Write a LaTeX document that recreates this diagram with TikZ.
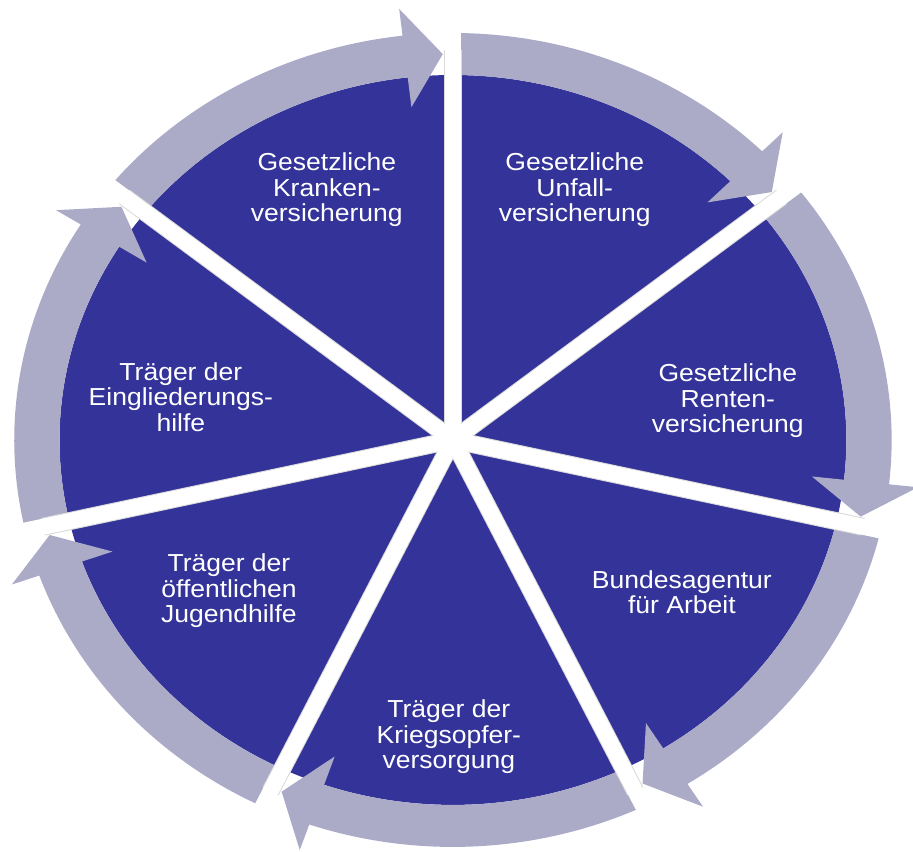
\documentclass[tikz,border=0pt]{standalone}
\usepackage{fontspec}
\setmainfont{Liberation Sans}
\usepackage{tikz}

\definecolor{wedgeblue}{RGB}{51,51,153}
\definecolor{ringgrey}{RGB}{171,171,200}

\begin{document}
\begin{tikzpicture}[xscale=1.078,
	wedge/.style={fill=wedgeblue},
	band/.style={fill=ringgrey},
	gapedge/.style={draw=black!15, line width=9pt},
	gapfill/.style={draw=white, line width=8pt},
	txt/.style={text=white, align=center, transform shape,
		font=\fontsize{12.3}{12.75}\selectfont}]
	
	\useasboundingbox (-210.1pt,-206pt) rectangle (213.4pt,220pt);
	
	% seven segments, clockwise from the top, each with its arrow band
	\foreach \s in {0,...,6} {
		\pgfmathsetmacro{\angA}{90-\s*360/7}
		\pgfmathsetmacro{\angB}{\angA-360/7}
		\pgfmathsetmacro{\angC}{\angB+6.6}
		\pgfmathsetmacro{\angT}{\angB+1.4}
		\fill[wedge] (0,0) -- (\angA:182.5pt)
			arc[start angle=\angA, end angle=\angB, radius=182.5pt] -- cycle;
		\fill[band] (\angA:182.5pt)
			arc[start angle=\angA, end angle=\angC, radius=182.5pt]
			-- (\angC:167.5pt) -- (\angT:193pt) -- (\angC:217pt) -- (\angC:203.5pt)
			arc[start angle=\angC, end angle=\angA, radius=203.5pt] -- cycle;
	}
	
	% white gaps between the segments
	\foreach \s in {0,...,6}
		\draw[gapedge] (0,0) -- ({90-\s*360/7}:195pt);
	\foreach \s in {0,...,6}
		\draw[gapfill] (0,0) -- ({90-\s*360/7}:204pt);
	
	\node[txt] (kv) at (-58.5pt,125pt) {Gesetzliche\\Kranken-\\versicherung};
	
	\node[txt] (uv) at (56.5pt,125pt) {Gesetzliche\\Unfall-\\versicherung};
	
	\node[txt] (rv) at (127.5pt,19.5pt) {Gesetzliche\\Renten-\\versicherung};
	
	\node[txt] (ba) at (106.2pt,-76pt) {Bundesagentur\\für Arbeit};
	
	\node[txt] (ko) at (-1.9pt,-148.5pt) {Träger der\\Kriegsopfer-\\versorgung};
	
	\node[txt] (jh) at (-103.9pt,-75.5pt) {Träger der\\öffentlichen\\Jugendhilfe};
	
	\node[txt] (eh) at (-126.2pt,21.5pt) {Träger der\\Eingliederungs-\\hilfe};
	
\end{tikzpicture}
\end{document}
